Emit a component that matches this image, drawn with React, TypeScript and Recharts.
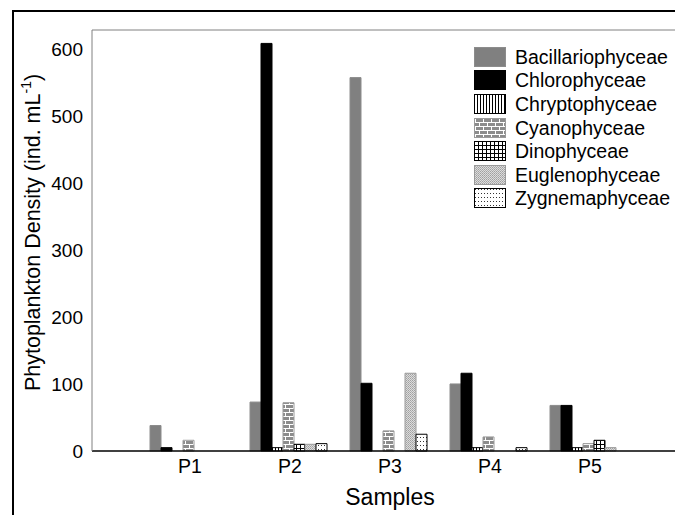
import React from 'react';
import { BarChart, Bar, XAxis, YAxis, Legend, ReferenceLine } from 'recharts';

const categories = ['P1', 'P2', 'P3', 'P4', 'P5'];
const bacillariophyceae = [38, 73, 557, 100, 68];
const chlorophyceae = [5, 608, 101, 116, 68];
const chryptophyceae = [0, 5, 0, 5, 5];
const cyanophyceae = [16, 72, 30, 21, 11];
const dinophyceae = [0, 10, 0, 0, 16];
const euglenophyceae = [0, 10, 116, 0, 5];
const zygnemaphyceae = [0, 11, 25, 5, 0];
const yTicks = [0, 100, 200, 300, 400, 500, 600];

const seriesNames = [
  'Bacillariophyceae',
  'Chlorophyceae',
  'Chryptophyceae',
  'Cyanophyceae',
  'Dinophyceae',
  'Euglenophyceae',
  'Zygnemaphyceae',
];
const seriesValues = [
  bacillariophyceae,
  chlorophyceae,
  chryptophyceae,
  cyanophyceae,
  dinophyceae,
  euglenophyceae,
  zygnemaphyceae,
];

const seriesStyle = [
  { fill: '#808080', stroke: '#8c8c8c' },
  { fill: '#000000', stroke: '#000000' },
  { fill: 'url(#patVert)', stroke: '#000000' },
  { fill: 'url(#patBrick)', stroke: '#9a9a9a' },
  { fill: 'url(#patGrid)', stroke: '#000000' },
  { fill: 'url(#patEugl)', stroke: '#9a9a9a' },
  { fill: 'url(#patDots)', stroke: '#000000' },
];

const data = categories.map((c, i) => {
  const row: any = { sample: c };
  seriesNames.forEach((n, j) => {
    row[n] = seriesValues[j][i];
  });
  return row;
});

const FONT = '"Liberation Sans", Arial, sans-serif';

const renderLegend = () => (
  <div style={{ fontFamily: FONT }}>
    {seriesNames.map((n, i) => (
      <div key={n} style={{ display: 'flex', alignItems: 'center', height: 23.6 }}>
        <svg width={32} height={20} style={{ display: 'block' }}>
          <rect
            x={0.5}
            y={0.5}
            width={31}
            height={19}
            fill={seriesStyle[i].fill}
            stroke={seriesStyle[i].stroke}
            strokeWidth={1}
          />
        </svg>
        <span style={{ marginLeft: 9, fontSize: 19.5, color: '#000', lineHeight: '20px', whiteSpace: 'nowrap' }}>{n}</span>
      </div>
    ))}
  </div>
);

const YLabel = (props: any) => {
  const vb = props.viewBox || { x: 0, y: 0, width: 0, height: 0 };
  const cx = vb.x + 25;
  const cy = vb.y + vb.height / 2 - 8;
  return (
    <text
      x={cx}
      y={cy}
      transform={`rotate(-90 ${cx} ${cy})`}
      textAnchor="middle"
      dominantBaseline="central"
      fontSize={21.5}
      fontFamily={FONT}
      fill="#000"
    >
      Phytoplankton Density (ind. mL
      <tspan dy={-7} fontSize={14}>-1</tspan>
      <tspan dy={7}>)</tspan>
    </text>
  );
};

export default function App() {
  return (
    <div style={{ position: 'relative', width: 675, height: 507, overflow: 'hidden', fontFamily: FONT }}>
      <div
        style={{
          position: 'absolute',
          left: 4,
          top: 2,
          width: 800,
          height: 600,
          borderLeft: '2px solid #000',
          borderTop: '2px solid #000',
        }}
      />
      <BarChart
        width={685}
        height={507}
        data={data}
        margin={{ top: 22, right: 5, bottom: 0, left: 0 }}
        barCategoryGap="10%"
        barGap={0}
      >
        <defs>
          <pattern id="patVert" patternUnits="userSpaceOnUse" width={3} height={3}>
            <rect width={3} height={3} fill="#fff" />
            <rect x={0} y={0} width={1} height={3} fill="#000" />
          </pattern>
          <pattern id="patBrick" patternUnits="userSpaceOnUse" width={8} height={8}>
            <rect width={8} height={8} fill="#8c8c8c" />
            <rect x={0} y={0} width={8} height={1} fill="#fff" />
            <rect x={0} y={4} width={8} height={1} fill="#fff" />
            <rect x={1} y={0} width={1} height={4} fill="#fff" />
            <rect x={5} y={4} width={1} height={4} fill="#fff" />
          </pattern>
          <pattern id="patGrid" patternUnits="userSpaceOnUse" width={4} height={4}>
            <rect width={4} height={4} fill="#fff" />
            <rect x={0} y={0} width={1} height={4} fill="#000" />
            <rect x={0} y={0} width={4} height={1} fill="#000" />
          </pattern>
          <pattern id="patEugl" patternUnits="userSpaceOnUse" width={2} height={2}>
            <rect width={2} height={2} fill="#dcdcdc" />
            <rect x={0} y={0} width={1} height={1} fill="#a0a0a0" />
            <rect x={1} y={1} width={1} height={1} fill="#b0b0b0" />
          </pattern>
          <pattern id="patDots" patternUnits="userSpaceOnUse" width={3} height={4}>
            <rect width={3} height={4} fill="#fff" />
            <rect x={1} y={1} width={1} height={1} fill="#333" />
          </pattern>
        </defs>
        <XAxis
          dataKey="sample"
          height={64}
          padding={{ left: 48, right: 48 }}
          tickLine={false}
          axisLine={{ stroke: '#000', strokeWidth: 1.5 }}
          tick={{ fontSize: 19.5, fill: '#000', fontFamily: FONT }}
          label={{ value: 'Samples', position: 'insideBottom', offset: 10, fontSize: 23, fill: '#000', fontFamily: FONT }}
        />
        <YAxis
          width={84}
          domain={[0, 628]}
          ticks={yTicks}
          interval={0}
          tickLine={false}
          tickMargin={3}
          axisLine={{ stroke: '#808080', strokeWidth: 1 }}
          tick={{ fontSize: 19, fill: '#000', fontFamily: FONT }}
          label={<YLabel />}
        />
        <ReferenceLine y={628} stroke="#808080" strokeWidth={1} />
        {seriesNames.map((n, i) => (
          <Bar
            key={n}
            dataKey={n}
            fill={seriesStyle[i].fill}
            stroke={seriesStyle[i].stroke}
            strokeWidth={1}
            isAnimationActive={false}
          />
        ))}
        <Legend
          content={renderLegend}
          layout="vertical"
          align="center"
          verticalAlign="middle"
          wrapperStyle={{ position: 'absolute', left: 466, top: 37, width: 'auto', height: 'auto' }}
        />
      </BarChart>
    </div>
  );
}
